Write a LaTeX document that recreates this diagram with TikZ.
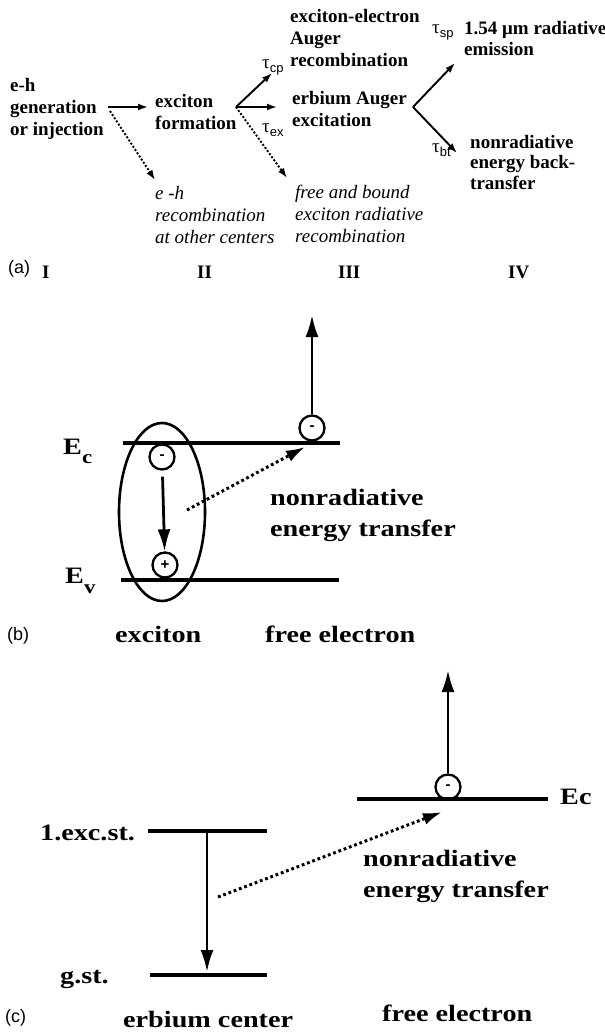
\documentclass[tikz,border=0pt]{standalone}
\usepackage{fontspec}
\setmainfont{Liberation Serif}
\setsansfont{Liberation Sans}
\newfontfamily\widefont[FakeStretch=1.2]{Liberation Serif}
\usetikzlibrary{arrows.meta}

\newcommand{\tauof}[1]{τ\raisebox{-4pt}{\sffamily\fontsize{13}{13}\selectfont #1}}

\tikzset{
  lbl/.style={inner sep=0pt, anchor=base west, align=left},
  stepa/.style={lbl, font=\fontsize{19}{22}\selectfont\bfseries},
  fatea/.style={lbl, font=\fontsize{19}{22}\selectfont\itshape},
  tau/.style={lbl, font=\fontsize{19}{22}\selectfont},
  big/.style={lbl, font=\widefont\fontsize{23.5}{30.5}\selectfont\bfseries},
  tag/.style={lbl, font=\sffamily\fontsize{18}{20}\selectfont},
  flow/.style={-{Latex[length=10pt,width=7pt]}, line width=1.9pt},
  flowdot/.style={flow, dash pattern=on 2pt off 1.8pt},
  level/.style={line width=3.4pt},
  jump/.style={-{Latex[length=22pt,width=13pt]}, line width=2.8pt},
  transfer/.style={-{Latex[length=19pt,width=12pt]}, line width=3pt, dash pattern=on 2.8pt off 2.8pt},
  carrier/.style={draw, circle, line width=2.3pt, minimum size=25pt, inner sep=0pt,
    font=\sffamily\bfseries\fontsize{15}{15}\selectfont}
}

\begin{document}
\begin{tikzpicture}[x=1pt,y=-1pt]
  \useasboundingbox (0,0) rectangle (605,1034);
  % (a) sequence of steps (multi-line nodes sit on their last line)
  \node[stepa] (gen) at (10,135) {e-h\\generation\\or injection};
  \node[stepa] (exf) at (155,129) {exciton\\formation};
  \node[fatea] (loss1) at (155,243) {e -h\\recombination\\at other centers};
  \node[stepa] (aug) at (290,66) {exciton-electron\\Auger\\recombination};
  \node[stepa] (erb) at (292,126) {erbium Auger\\excitation};
  \node[fatea] (loss2) at (295,242) {free and bound\\exciton radiative\\recombination};
  \node[stepa, font=\fontsize{19}{21}\selectfont\bfseries] (emi) at (464,55) {1.54 μm radiative\\emission};
  \node[stepa, font=\fontsize{19}{20.5}\selectfont\bfseries] (bt) at (470,189) {nonradiative\\energy back-\\transfer};
  \node[tau] (tcp) at (262,68) {\tauof{cp}};
  \node[tau] (tex) at (262,132) {\tauof{ex}};
  \node[tau] (tsp) at (432,33) {\tauof{sp}};
  \node[tau] (tbt) at (432,152) {\tauof{bt}};
  \coordinate (genout) at (108,107);
  \coordinate (exfin) at (148,107);
  \coordinate (genloss) at (110,111);
  \coordinate (loss1in) at (155,180);
  \coordinate (fork) at (236,107);
  \coordinate (augin) at (272,73);
  \coordinate (erbin) at (277,107);
  \coordinate (loss2in) at (287,178);
  \coordinate (erbout) at (413,107);
  \coordinate (emiin) at (455,63);
  \coordinate (btin) at (457,153);
  \draw[flow] (genout) -- (exfin);
  \draw[flowdot] (genloss) -- (loss1in);
  \draw[flow] (fork) -- (augin);
  \draw[flow] (fork) -- (erbin);
  \draw[flowdot] (fork) -- (loss2in);
  \draw[flow] (erbout) -- (emiin);
  \draw[flow] (erbout) -- (btin);
  % stage numbers
  \node[tag] (pa) at (8,273) {(a)};
  \node[stepa] (st1) at (42,278) {I};
  \node[stepa] (st2) at (197,278) {II};
  \node[stepa] (st3) at (338,278) {III};
  \node[stepa] (st4) at (508,278) {IV};

  % (b) exciton -> free electron
  \draw[level] (123,443) -- (340,443);
  \draw[level] (121,580) -- (339,580);
  \draw[line width=2.6pt] (162,512) ellipse [x radius=43, y radius=89];
  \node[carrier] (eb) at (162,457) {-};
  \node[carrier] (hb) at (165,565) {+};
  \node[carrier] (fb) at (312,428) {-};
  \coordinate (fbtop) at (312,315);
  \coordinate (dotbs) at (187,510);
  \coordinate (dotbe) at (305,447);
  \draw[jump, shorten <=6pt] (eb) -- (hb);
  \draw[jump] (fb) -- (fbtop);
  \draw[transfer] (dotbs) -- (dotbe);
  \node[big] (Ecb) at (63,454) {E\raisebox{-9pt}{\fontsize{19}{19}\selectfont c}};
  \node[big] (Evb) at (65,583) {E\raisebox{-10pt}{\fontsize{19}{19}\selectfont v}};
  \node[big] (ntb) at (270,536) {nonradiative\\energy transfer};
  \node[tag] (pb) at (7,640) {(b)};
  \node[big] (excb) at (115,642) {exciton};
  \node[big] (feb) at (265,642) {free electron};

  % (c) erbium center -> free electron
  \draw[level] (148,831) -- (267,831);
  \draw[level] (150,975) -- (267,975);
  \draw[level] (357,799) -- (548,799);
  \coordinate (erhi) at (207,831);
  \coordinate (erlo) at (207,972);
  \draw[jump] (erhi) -- (erlo);
  \node[carrier] (fc) at (448,787) {-};
  \coordinate (fctop) at (448,670);
  \draw[jump] (fc) -- (fctop);
  \coordinate (dotcs) at (218,897);
  \coordinate (dotce) at (442,812);
  \draw[transfer] (dotcs) -- (dotce);
  \node[big] (exst) at (40,840) {1.exc.st.};
  \node[big] (gst) at (60,983) {g.st.};
  \node[big] (Ecc) at (560,804) {Ec};
  \node[big] (ntc) at (363,897) {nonradiative\\energy transfer};
  \node[tag] (pc) at (5,1022) {(c)};
  \node[big] (erc) at (123,1027) {erbium center};
  \node[big] (fec) at (382,1021) {free electron};
\end{tikzpicture}
\end{document}
